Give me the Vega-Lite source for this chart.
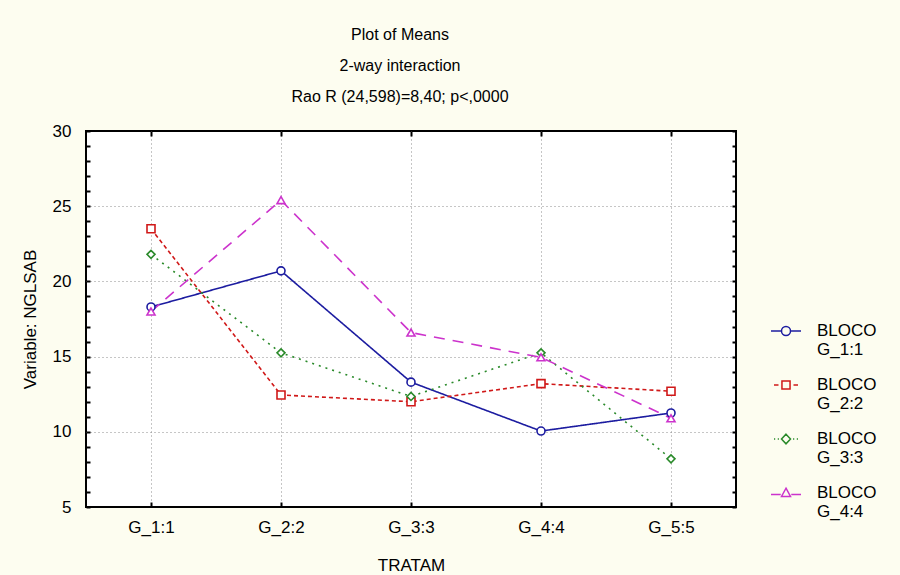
{
  "$schema": "https://vega.github.io/schema/vega-lite/v6.json",
  "autosize": "none",
  "width": 650,
  "height": 376,
  "padding": {"left": 86, "top": 131, "right": 164, "bottom": 68},
  "background": "#fdfdf0",
  "title": {
    "text": ["Plot of Means", "2-way interaction", "Rao R (24,598)=8,40; p<,0000"],
    "font": "Liberation Sans",
    "fontSize": 16,
    "fontWeight": "normal",
    "color": "#000000",
    "lineHeight": 31,
    "anchor": "middle",
    "dx": -11,
    "offset": 17
  },
  "config": {
    "view": {"fill": "white", "stroke": "#000000", "strokeWidth": 2},
    "axis": {
      "labelFont": "Liberation Sans",
      "labelFontSize": 17,
      "labelColor": "#000000",
      "titleFont": "Liberation Sans",
      "titleFontSize": 17,
      "titleFontWeight": "normal",
      "titleColor": "#000000",
      "tickColor": "#000000",
      "tickWidth": 2,
      "domain": false
    },
    "legend": {
      "labelFont": "Liberation Sans",
      "labelFontSize": 17,
      "labelColor": "#000000"
    }
  },
  "data": {
    "values": [
      {"tratam": "G_1:1", "bloco": "G_1:1", "value": 18.3},
      {"tratam": "G_2:2", "bloco": "G_1:1", "value": 20.7},
      {"tratam": "G_3:3", "bloco": "G_1:1", "value": 13.3},
      {"tratam": "G_4:4", "bloco": "G_1:1", "value": 10.05},
      {"tratam": "G_5:5", "bloco": "G_1:1", "value": 11.25},
      {"tratam": "G_1:1", "bloco": "G_2:2", "value": 23.5},
      {"tratam": "G_2:2", "bloco": "G_2:2", "value": 12.45},
      {"tratam": "G_3:3", "bloco": "G_2:2", "value": 12.0},
      {"tratam": "G_4:4", "bloco": "G_2:2", "value": 13.2},
      {"tratam": "G_5:5", "bloco": "G_2:2", "value": 12.7},
      {"tratam": "G_1:1", "bloco": "G_3:3", "value": 21.8},
      {"tratam": "G_2:2", "bloco": "G_3:3", "value": 15.25},
      {"tratam": "G_3:3", "bloco": "G_3:3", "value": 12.35},
      {"tratam": "G_4:4", "bloco": "G_3:3", "value": 15.25},
      {"tratam": "G_5:5", "bloco": "G_3:3", "value": 8.2},
      {"tratam": "G_1:1", "bloco": "G_4:4", "value": 18.0},
      {"tratam": "G_2:2", "bloco": "G_4:4", "value": 25.4},
      {"tratam": "G_3:3", "bloco": "G_4:4", "value": 16.6},
      {"tratam": "G_4:4", "bloco": "G_4:4", "value": 14.95},
      {"tratam": "G_5:5", "bloco": "G_4:4", "value": 10.9}
    ]
  },
  "resolve": {
    "axis": {"x": "independent", "y": "independent"},
    "scale": {"color": "independent", "shape": "independent", "strokeDash": "independent"}
  },
  "layer": [
    {
      "mark": {"type": "line", "strokeWidth": 1.6},
      "encoding": {
        "x": {
          "field": "tratam", "type": "ordinal",
          "scale": {"type": "point", "padding": 0.5},
          "axis": {
            "orient": "bottom", "title": "TRATAM",
            "labelAngle": 0, "tickSize": -5, "labelPadding": 17, "titlePadding": 22,
            "grid": true, "gridDash": [1, 3], "gridColor": "#8c8c8c", "gridWidth": 1
          }
        },
        "y": {
          "field": "value", "type": "quantitative",
          "scale": {"domain": [5, 30], "nice": false, "zero": false},
          "axis": {
            "orient": "left", "title": "Variable: NGLSAB",
            "values": [5,6,7,8,9,10,11,12,13,14,15,16,17,18,19,20,21,22,23,24,25,26,27,28,29,30],
            "labelExpr": "datum.value % 5 === 0 ? datum.label : ''",
            "tickSize": -4, "labelPadding": 19, "titlePadding": 13,
            "grid": true, "gridDash": [1, 3], "gridColor": "#8c8c8c", "gridWidth": 1,
            "gridOpacity": {"condition": {"test": "datum.value % 5 === 0 && datum.value > 5 && datum.value < 30", "value": 1}, "value": 0}
          }
        },
        "color": {
          "field": "bloco", "type": "nominal",
          "scale": {"domain": ["G_1:1", "G_2:2", "G_3:3", "G_4:4"], "range": ["#1c1ca0", "#d01818", "#2a8a2a", "#cc33cc"]},
          "legend": null
        },
        "strokeDash": {
          "field": "bloco", "type": "nominal",
          "scale": {"domain": ["G_1:1", "G_2:2", "G_3:3", "G_4:4"], "range": [[1, 0], [4, 3], [2, 5], [11, 8]]},
          "legend": null
        }
      }
    },
    {
      "mark": {"type": "point", "filled": false, "fill": "white", "fillOpacity": 1, "size": 64, "strokeWidth": 1.6, "opacity": 1},
      "encoding": {
        "x": {"field": "tratam", "type": "ordinal", "axis": null},
        "y": {"field": "value", "type": "quantitative", "axis": null},
        "color": {
          "field": "bloco", "type": "nominal",
          "scale": {"domain": ["G_1:1", "G_2:2", "G_3:3", "G_4:4"], "range": ["#1c1ca0", "#d01818", "#2a8a2a", "#cc33cc"]},
          "legend": null
        },
        "shape": {
          "field": "bloco", "type": "nominal",
          "scale": {"domain": ["G_1:1", "G_2:2", "G_3:3", "G_4:4"], "range": ["circle", "square", "diamond", "triangle-up"]},
          "legend": null
        }
      }
    },
    {
      "mark": {"type": "point", "filled": false, "opacity": 0, "size": 900},
      "encoding": {
        "x": {"field": "tratam", "type": "ordinal", "axis": null},
        "y": {"field": "value", "type": "quantitative", "axis": null},
        "color": {
          "field": "bloco", "type": "nominal",
          "scale": {"domain": ["G_1:1", "G_2:2", "G_3:3", "G_4:4"], "range": ["#1c1ca0", "#d01818", "#2a8a2a", "#cc33cc"]},
          "legend": {
            "title": null, "orient": "none", "legendX": 684, "legendY": 184,
            "labelExpr": "['BLOCO', datum.label]",
            "symbolSize": 900, "symbolStrokeWidth": 1.5, "symbolOpacity": 1,
            "labelOffset": 15, "rowPadding": 11, "padding": 0
          }
        },
        "shape": {
          "field": "bloco", "type": "nominal",
          "scale": {"domain": ["G_1:1", "G_2:2", "G_3:3", "G_4:4"], "range": [
            "M-1,0H-0.3M0.3,0H1M0.3,0A0.3,0.3,0,1,1,-0.3,0A0.3,0.3,0,1,1,0.3,0Z",
            "M-0.8,0H-0.5M0.5,0H0.8M-0.27,-0.27H0.27V0.27H-0.27Z",
            "M-0.8,0H-0.72M-0.55,0H-0.47M0.47,0H0.55M0.72,0H0.8M0,-0.32L0.3,0L0,0.32L-0.3,0Z",
            "M-1,0.1H-0.35M0.35,0.1H1M0,-0.32L0.3,0.23H-0.3Z"
          ]},
          "legend": {
            "title": null, "orient": "none", "legendX": 684, "legendY": 184,
            "labelExpr": "['BLOCO', datum.label]",
            "symbolSize": 900, "symbolStrokeWidth": 1.5, "symbolOpacity": 1,
            "labelOffset": 15, "rowPadding": 11, "padding": 0
          }
        }
      }
    },
    {
      "mark": {"type": "line", "opacity": 0},
      "encoding": {
        "x": {
          "field": "tratam", "type": "ordinal",
          "axis": {"orient": "top", "labels": false, "title": null, "grid": false, "tickSize": -5}
        },
        "y": {
          "field": "value", "type": "quantitative",
          "axis": {
            "orient": "right", "labels": false, "title": null, "grid": false, "tickSize": -4,
            "values": [5,6,7,8,9,10,11,12,13,14,15,16,17,18,19,20,21,22,23,24,25,26,27,28,29,30]
          }
        },
        "detail": {"field": "bloco"}
      }
    }
  ]
}
